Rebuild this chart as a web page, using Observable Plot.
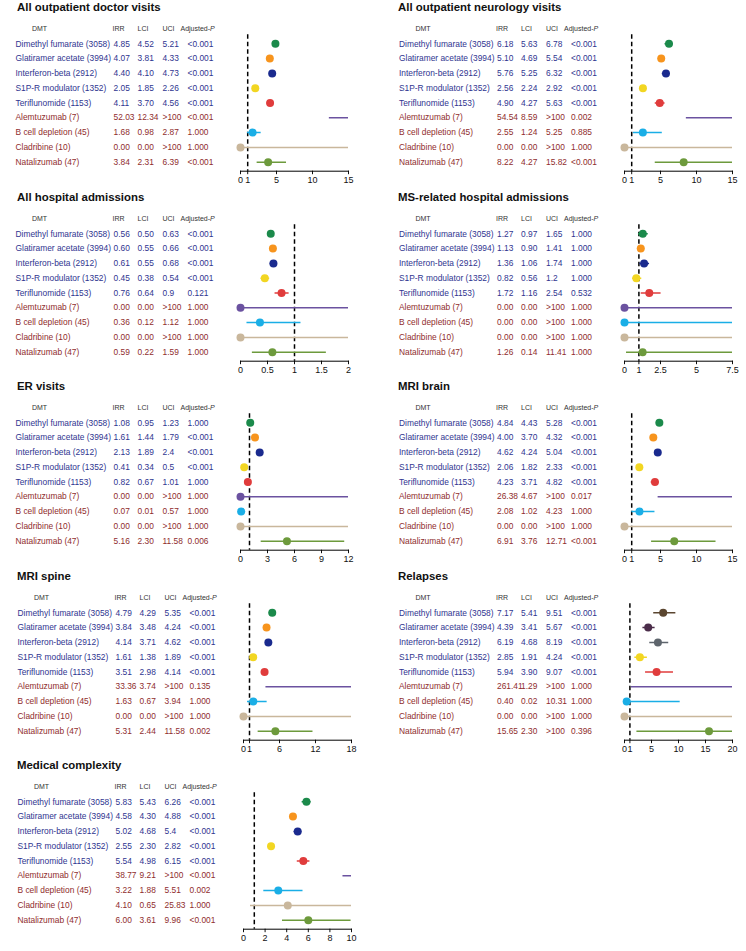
<!DOCTYPE html>
<html><head><meta charset="utf-8">
<script src="https://cdn.jsdelivr.net/npm/d3@7"></script>
<script src="https://cdn.jsdelivr.net/npm/@observablehq/plot@0.6"></script>
<style>
body{margin:0;background:#fff;}
#root{position:relative;width:746px;height:951px;font-family:"Liberation Sans",Arial,Helvetica,sans-serif;background:#fff;}
.panel{position:absolute;width:373px;height:189px;}
.title{height:14px;line-height:14px;font-weight:bold;font-size:11.4px;color:#111;white-space:nowrap;}
.panel svg{display:block;}
</style></head><body><div id="root"></div>
<script>
// ---------- data ----------
const dmts = ["Dimethyl fumarate (3058)","Glatiramer acetate (3994)","Interferon-beta (2912)","S1P-R modulator (1352)","Teriflunomide (1153)","Alemtuzumab (7)","B cell depletion (45)","Cladribine (10)","Natalizumab (47)"];
const dmtColors = ["#1b8a4b","#f7941d","#1a2a8e","#f2d622","#e03c3c","#6b52a0","#1aaee6","#c9b79c","#6d9a3c"];
const relapseColors = ["#5b4630","#4b2d4a","#5e656d","#f2d622","#e03c3c","#6b52a0","#1aaee6","#c9b79c","#6d9a3c"];

const titles = ["All outpatient doctor visits","All outpatient neurology visits","All hospital admissions","MS-related hospital admissions","ER visits","MRI brain","MRI spine","Relapses","Medical complexity"];

const doctorIrr = ["4.85","4.07","4.40","2.05","4.11","52.03","1.68","0.00","3.84"];
const doctorLci = ["4.52","3.81","4.10","1.85","3.70","12.34","0.98","0.00","2.31"];
const doctorUci = ["5.21","4.33","4.73","2.26","4.56",">100","2.87",">100","6.39"];
const doctorP   = ["<0.001","<0.001","<0.001","<0.001","<0.001","<0.001","1.000","1.000","<0.001"];
const doctorTicks = [0,1,5,10,15];

const neuroIrr = ["6.18","5.10","5.76","2.56","4.90","54.54","2.55","0.00","8.22"];
const neuroLci = ["5.63","4.69","5.25","2.24","4.27","8.59","1.24","0.00","4.27"];
const neuroUci = ["6.78","5.54","6.32","2.92","5.63",">100","5.25",">100","15.82"];
const neuroP   = ["<0.001","<0.001","<0.001","<0.001","<0.001","0.002","0.885","1.000","<0.001"];
const neuroTicks = [0,1,5,10,15];

const hospIrr = ["0.56","0.60","0.61","0.45","0.76","0.00","0.36","0.00","0.59"];
const hospLci = ["0.50","0.55","0.55","0.38","0.64","0.00","0.12","0.00","0.22"];
const hospUci = ["0.63","0.66","0.68","0.54","0.9",">100","1.12",">100","1.59"];
const hospP   = ["<0.001","<0.001","<0.001","<0.001","0.121","1.000","1.000","1.000","1.000"];
const hospTicks = [0,0.5,1,1.5,2];

const msHospIrr = ["1.27","1.13","1.36","0.82","1.72","0.00","0.00","0.00","1.26"];
const msHospLci = ["0.97","0.90","1.06","0.56","1.16","0.00","0.00","0.00","0.14"];
const msHospUci = ["1.65","1.41","1.74","1.2","2.54",">100",">100",">100","11.41"];
const msHospP   = ["1.000","1.000","1.000","1.000","0.532","1.000","1.000","1.000","1.000"];
const msHospTicks = [0,1,2.5,5,7.5];

const erIrr = ["1.08","1.61","2.13","0.41","0.82","0.00","0.07","0.00","5.16"];
const erLci = ["0.95","1.44","1.89","0.34","0.67","0.00","0.01","0.00","2.30"];
const erUci = ["1.23","1.79","2.4","0.5","1.01",">100","0.57",">100","11.58"];
const erP   = ["1.000","<0.001","<0.001","<0.001","1.000","1.000","1.000","1.000","0.006"];
const erTicks = [0,3,6,9,12];

const brainIrr = ["4.84","4.00","4.62","2.06","4.23","26.38","2.08","0.00","6.91"];
const brainLci = ["4.43","3.70","4.24","1.82","3.71","4.67","1.02","0.00","3.76"];
const brainUci = ["5.28","4.32","5.04","2.33","4.82",">100","4.23",">100","12.71"];
const brainP   = ["<0.001","<0.001","<0.001","<0.001","<0.001","0.017","1.000","1.000","<0.001"];
const brainTicks = [0,1,5,10,15];

const spineIrr = ["4.79","3.84","4.14","1.61","3.51","33.36","1.63","0.00","5.31"];
const spineLci = ["4.29","3.48","3.71","1.38","2.98","3.74","0.67","0.00","2.44"];
const spineUci = ["5.35","4.24","4.62","1.89","4.14",">100","3.94",">100","11.58"];
const spineP   = ["<0.001","<0.001","<0.001","<0.001","<0.001","0.135","1.000","1.000","0.002"];
const spineTicks = [0,1,6,12,18];

const relapseIrr = ["7.17","4.39","6.19","2.85","5.94","261.41","0.40","0.00","15.65"];
const relapseLci = ["5.41","3.41","4.68","1.91","3.90","1.29","0.02","0.00","2.30"];
const relapseUci = ["9.51","5.67","8.19","4.24","9.07",">100","10.31",">100",">100"];
const relapseP   = ["<0.001","<0.001","<0.001","<0.001","<0.001","1.000","1.000","1.000","0.396"];
const relapseTicks = [0,1,5,10,15,20];

const complexIrr = ["5.83","4.58","5.02","2.55","5.54","38.77","3.22","4.10","6.00"];
const complexLci = ["5.43","4.30","4.68","2.30","4.98","9.21","1.88","0.65","3.61"];
const complexUci = ["6.26","4.88","5.4","2.82","6.15",">100","5.51","25.83","9.96"];
const complexP   = ["<0.001","<0.001","<0.001","<0.001","<0.001","<0.001","0.002","1.000","<0.001"];
const complexTicks = [0,2,4,6,8,10];

// ---------- layout ----------
const NAVY = "#2f3590", MAROON = "#8f2d2d";
const FONT = "'Liberation Sans', Arial, Helvetica, sans-serif";

const panels = [
  {title: titles[0], irr: doctorIrr, lci: doctorLci, uci: doctorUci, p: doctorP, ticks: doctorTicks, colors: dmtColors, col: 0, row: 0},
  {title: titles[1], irr: neuroIrr, lci: neuroLci, uci: neuroUci, p: neuroP, ticks: neuroTicks, colors: dmtColors, col: 1, row: 0},
  {title: titles[2], irr: hospIrr, lci: hospLci, uci: hospUci, p: hospP, ticks: hospTicks, colors: dmtColors, col: 0, row: 1},
  {title: titles[3], irr: msHospIrr, lci: msHospLci, uci: msHospUci, p: msHospP, ticks: msHospTicks, colors: dmtColors, col: 1, row: 1},
  {title: titles[4], irr: erIrr, lci: erLci, uci: erUci, p: erP, ticks: erTicks, colors: dmtColors, col: 0, row: 2},
  {title: titles[5], irr: brainIrr, lci: brainLci, uci: brainUci, p: brainP, ticks: brainTicks, colors: dmtColors, col: 1, row: 2},
  {title: titles[6], irr: spineIrr, lci: spineLci, uci: spineUci, p: spineP, ticks: spineTicks, colors: dmtColors, col: 0, row: 3},
  {title: titles[7], irr: relapseIrr, lci: relapseLci, uci: relapseUci, p: relapseP, ticks: relapseTicks, colors: relapseColors, col: 1, row: 3},
  {title: titles[8], irr: complexIrr, lci: complexLci, uci: complexUci, p: complexP, ticks: complexTicks, colors: dmtColors, col: 0, row: 4}
];

const root = document.getElementById("root");

function num(s) { return s.startsWith(">") ? +s.slice(1) : +s; }

function makePanel(cfg) {
  const {title, irr, lci, uci, p, ticks, colors, col, row} = cfg;
  const textShift = col === 1 ? 10.5 : (row >= 3 ? 2 : 0);
  const plotShift = col === 1 ? 11 : (row >= 3 ? 3 : 0);
  const x0 = 240 + plotShift, x1 = 348 + plotShift;
  const W = 373, H = 175, mt = 20.3, mb = 18.3;
  const xmax = ticks[ticks.length - 1];

  const rows = dmts.map((name, i) => ({
    name, irrT: irr[i], lciT: lci[i], uciT: uci[i], pT: p[i],
    irrV: num(irr[i]), lciV: num(lci[i]), uciV: num(uci[i]),
    color: colors[i], tcolor: i < 5 ? NAVY : MAROON
  }));

  const cx = {name: 15, irr: 113, lci: 137, uci: 162, p: 187};
  const dxOf = v => v + textShift - x0;
  const hdrDy = -8.3;
  const headers = [
    {t: "DMT", x: 39, anchor: "middle", style: "normal"},
    {t: "IRR", x: 112, anchor: "start", style: "normal"},
    {t: "LCI", x: 137, anchor: "start", style: "normal"},
    {t: "UCI", x: 162, anchor: "start", style: "normal"},
    {t: "Adjusted-", x: 180, anchor: "start", style: "normal"},
    {t: "P", x: 209.4, anchor: "start", style: "italic"}
  ];

  const textCol = (field, key) => Plot.text(rows, {
    y: "name", text: field, frameAnchor: "left", dx: dxOf(cx[key]),
    textAnchor: "start", fill: "tcolor", fontSize: 8.4
  });

  const svg = Plot.plot({
    width: W, height: H,
    marginLeft: x0, marginRight: W - x1, marginTop: mt, marginBottom: mb,
    style: {fontFamily: FONT, fontSize: "9px", background: "white", color: "#111", overflow: "visible"},
    x: {domain: [0, xmax], ticks, tickSize: 3.5, tickPadding: 1.5, tickFormat: d => String(d), label: null},
    y: {type: "band", domain: dmts, paddingInner: 0, paddingOuter: 0.11, align: 0.5, axis: null, round: false},
    marks: [
      Plot.frame({anchor: "bottom", stroke: "#000", strokeWidth: 1}),
      Plot.ruleX([1], {stroke: "#000", strokeWidth: 1.5, strokeDasharray: "4.5,3"}),
      Plot.ruleY(rows, {y: "name", x1: "lciV", x2: "uciV", stroke: "color", strokeWidth: 1.5, clip: true}),
      Plot.dot(rows.filter(d => d.irrV <= xmax), {x: "irrV", y: "name", r: 4, fill: "color", stroke: null}),
      textCol("name", "name"),
      textCol("irrT", "irr"),
      textCol("lciT", "lci"),
      textCol("uciT", "uci"),
      textCol("pT", "p"),
      ...headers.map(h => Plot.text([h], {
        text: "t", frameAnchor: "top-left", dx: dxOf(h.x), dy: hdrDy,
        textAnchor: h.anchor, fontStyle: h.style, fontSize: 7, fill: "#333"
      }))
    ]
  });

  const div = document.createElement("div");
  div.className = "panel";
  div.style.left = (col * 373) + "px";
  div.style.top = (row * 189.5) + "px";
  const t = document.createElement("div");
  t.className = "title";
  t.style.paddingLeft = (col === 1 ? 25 : 17) + "px";
  t.textContent = title;
  div.appendChild(t);
  div.appendChild(svg);
  root.appendChild(div);
}

panels.forEach(makePanel);
</script></body></html>
